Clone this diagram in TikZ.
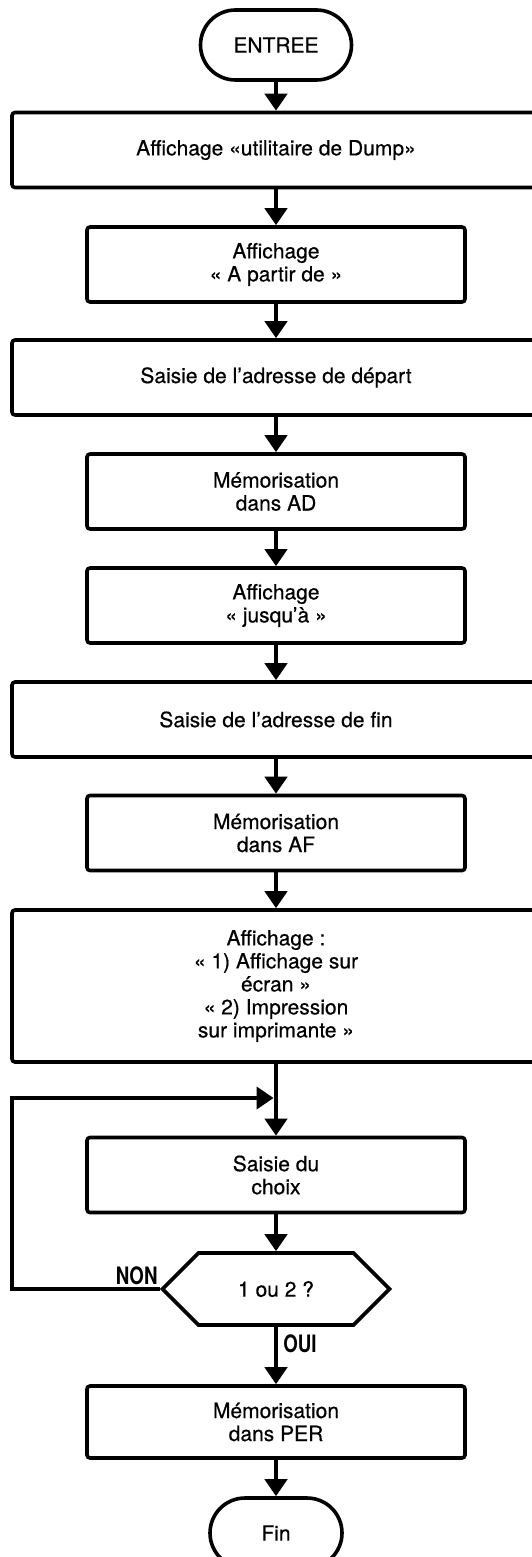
\documentclass[tikz,border=0pt]{standalone}
\usepackage{fontspec}
\setmainfont[FakeBold=0.5]{TeX Gyre Heros}
\newfontfamily\ouinonfont[FakeStretch=0.78]{TeX Gyre Heros}
\usetikzlibrary{arrows.meta,positioning,shapes.misc,shapes.symbols}

\tikzset{
    box/.style={draw, line width=1.8pt, rounded corners=1.5pt, minimum width=189pt,
        minimum height=37.5pt, inner sep=0pt, align=center,
        font=\fontsize{10.5}{11.5}\selectfont},
    widebox/.style={box, minimum width=264pt},
    term/.style={draw, line width=1.8pt, rounded rectangle, minimum width=75.5pt,
        minimum height=35pt, inner sep=0pt, font=\fontsize{10.5}{11.5}\selectfont},
    decision/.style={draw, line width=1.8pt, signal, signal to=west and east,
        signal pointer angle=90, minimum width=113.5pt, minimum height=36pt,
        inner sep=0pt, font=\fontsize{10.5}{11.5}\selectfont},
    flow/.style={line width=2.3pt, -{Triangle[width=11pt,length=8.5pt]}},
    ouinon/.style={inner sep=0pt, font=\ouinonfont\bfseries\fontsize{12}{12}\selectfont}
}

\begin{document}
\begin{tikzpicture}[x=0.5pt,y=-0.5pt]
    \useasboundingbox (0,0) rectangle (531,1557);
    \node[term] (entree) at (276,45) {ENTREE};
    \node[widebox] (titre) at (276,150) {Affichage «utilitaire de Dump»};
    \node[box] (apartir) at (276,264.5) {Affichage\\« A partir de »};
    \node[widebox] (saisad) at (276,377.5) {Saisie de l’adresse de départ};
    \node[box] (memad) at (276,491.5) {Mémorisation\\dans AD};
    \node[box] (jusqua) at (276,605.5) {Affichage\\« jusqu’à »};
    \node[widebox] (saisaf) at (276,719.5) {Saisie de l’adresse de fin};
    \node[box] (memaf) at (276,833) {Mémorisation\\dans AF};
    \node[widebox, minimum height=76pt] (menu) at (276,986)
        {Affichage :\\« 1) Affichage sur\\écran »\\« 2) Impression\\sur imprimante »};
    \node[box] (choix) at (276,1175) {Saisie du\\choix};
    \node[decision] (q) at (276,1289) {1 ou 2 ?};
    \node[box, minimum height=36pt] (memper) at (276,1422) {Mémorisation\\dans PER};
    \node[term, minimum width=66pt] (fin) at (276,1533) {Fin};

    \foreach \a/\b in {entree/titre, titre/apartir, apartir/saisad, saisad/memad,
        memad/jusqua, jusqua/saisaf, saisaf/memaf, memaf/menu, menu/choix,
        choix/q, q/memper, memper/fin}
        {
        \draw[flow] (\a.south) -- (\b.north);
        }

    % retour si choix invalide
    \coordinate (coin) at (12,1098);
    \coordinate (retour) at (276,1098);
    \draw[flow, line width=1.8pt, shorten >=1.2pt] (q.west) -| (coin) -- (retour);
    \node[ouinon, above left=2pt and 1pt of q.west] (non) {NON};
    \node[ouinon, below right=4pt and 3.5pt of q.south] (oui) {OUI};
\end{tikzpicture}
\end{document}
